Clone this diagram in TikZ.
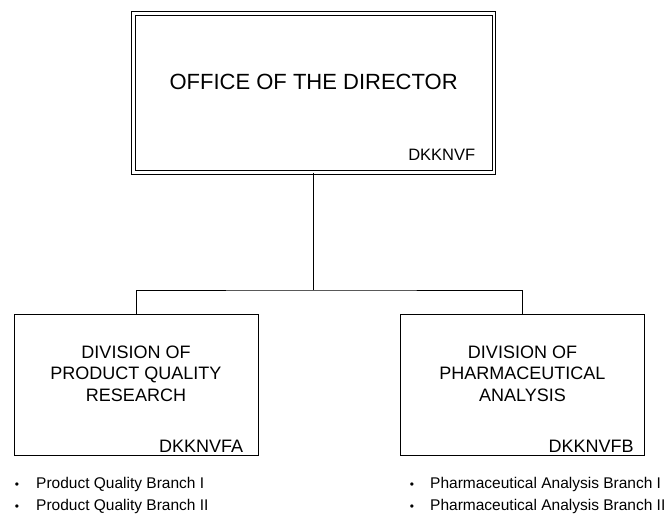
\documentclass[tikz,border=0pt]{standalone}
\usepackage{fontspec}
\setmainfont{Liberation Sans}
\usetikzlibrary{positioning}

\newcommand{\dims}{
\def\bw{244pt}   % division box width
\def\bh{141pt}   % division box height
\def\tw{360.75pt}
\def\th{159pt}
}
\newcommand{\busy}{290}

\tikzset{
  divbox/.style={draw,line width=0.9pt,minimum width=\bw,minimum height=\bh,inner sep=0pt},
  divtitle/.style={align=center,inner sep=0pt,font=\fontsize{18}{21.5}\selectfont},
  code/.style={anchor=base east,inner sep=0pt},
  branch/.style={anchor=base west,inner sep=0pt,font=\fontsize{15.5}{18}\selectfont},
  dot/.style={anchor=base,inner sep=0pt,font=\fontsize{12}{14}\selectfont}
}

\begin{document}
\begin{tikzpicture}[x=1pt,y=-1pt]
  \dims
  \useasboundingbox (0,0) rectangle (670,514);
%
  \node[draw,double,double distance=2.8pt,line width=0.9pt,
        minimum width=\tw,minimum height=\th,inner sep=0pt] (director) at (313.6,92.75) {};
  \node[anchor=base,inner sep=0pt,font=\fontsize{22}{26}\selectfont]
        (dirtitle) at ([yshift=3.75pt]director.center) {OFFICE OF THE DIRECTOR};
  \node[code,font=\fontsize{16.5}{20}\selectfont]
        (dircode) at ([xshift=-19pt,yshift=12pt]director.south east) {DKKNVF};
%
  \node[divbox] (divA) at (136,384.5) {};
  \node[divbox] (divB) at (522.5,384.5) {};
  \node[divtitle] (titleA) at ([yshift=11pt]divA.center) {DIVISION OF\\PRODUCT QUALITY\\RESEARCH};
  \node[divtitle] (titleB) at ([yshift=11pt]divB.center) {DIVISION OF\\PHARMACEUTICAL\\ANALYSIS};
  \node[code,font=\fontsize{18}{21}\selectfont] (codeA) at ([xshift=-15pt,yshift=3pt]divA.south east) {DKKNVFA};
  \node[code,font=\fontsize{18}{21}\selectfont] (codeB) at ([xshift=-11pt,yshift=3pt]divB.south east) {DKKNVFB};
%
  \coordinate (bus) at (313.6,\busy);
  \draw[line width=0.9pt] (director.south) -- (bus);
  \draw[line width=0.9pt] (divA.north) |- (bus) -| (divB.north);
%
  % branch lists
  \node[dot] (dA1) at (17,488) {\textbullet};
  \node[dot] (dA2) at (17,510) {\textbullet};
  \node[branch] (brA1) at (36,488) {Product Quality Branch I};
  \node[branch] (brA2) at (36,510) {Product Quality Branch II};
  \node[dot] (dB1) at (412,488) {\textbullet};
  \node[dot] (dB2) at (412,510) {\textbullet};
  \node[branch] (brB1) at (430,488) {Pharmaceutical Analysis Branch I};
  \node[branch] (brB2) at (430,510) {Pharmaceutical Analysis Branch II};
\end{tikzpicture}
\end{document}
